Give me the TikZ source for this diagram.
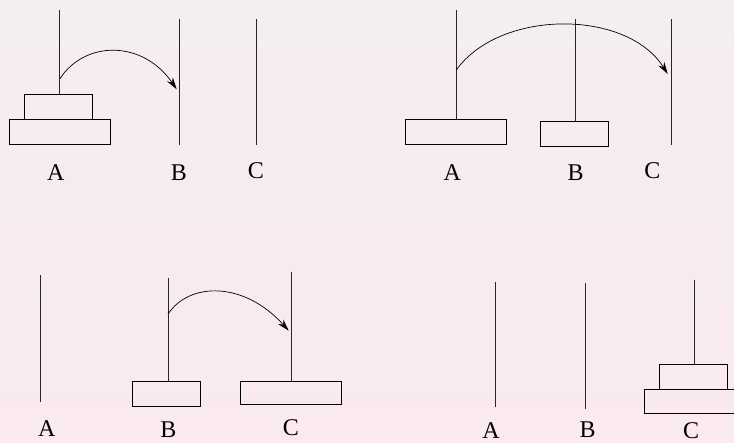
\documentclass[tikz,border=0pt]{standalone}
\usepackage{fontspec}
\setmainfont{Liberation Serif}
\usetikzlibrary{arrows.meta}
\definecolor{bgtop}{RGB}{244,238,242}
\definecolor{bgbot}{RGB}{250,233,238}
\tikzset{
  peg/.style={line width=0.8pt, black!85},
  disk/.style={draw, line width=0.8pt, inner sep=0pt, minimum height=24.5pt, anchor=north},
  bigdisk/.style={disk, minimum width=101pt},
  smalldisk/.style={disk, minimum width=68pt},
  lbl/.style={inner sep=0pt, font=\fontsize{24}{24}\selectfont},
  move/.style={line width=0.7pt, -{Stealth[length=12pt,width=7pt]}}
}
\begin{document}
\begin{tikzpicture}[x=1pt,y=-1pt]
\shade[top color=bgtop, bottom color=bgbot] (0,0) rectangle (734,443);
\useasboundingbox (0,0) rectangle (734,443);
% ---------- panel 1 ----------
\coordinate (p1At) at (59.7,10); \coordinate (p1Ab) at (59.7,94.3);
\coordinate (p1Bt) at (179.3,19); \coordinate (p1Bb) at (179.3,145);
\coordinate (p1Ct) at (256,19); \coordinate (p1Cb) at (256,145);
\draw[peg] (p1At) -- (p1Ab);
\draw[peg] (p1Bt) -- (p1Bb);
\draw[peg] (p1Ct) -- (p1Cb);
\node[smalldisk] (p1d1) at (58.3,94.3) {};
\node[bigdisk] (p1d2) at (59.8,119.3) {};
\coordinate (p1s) at (59.7,79); \coordinate (p1e) at (176.7,89.3);
\draw[move] (p1s) .. controls (85,40) and (143,40) .. (p1e);
\node[lbl] (p1lA) at (55.7,173) {A};
\node[lbl] (p1lB) at (179,173) {B};
\node[lbl] (p1lC) at (256,171) {C};
% ---------- panel 2 ----------
\coordinate (p2At) at (456.3,10); \coordinate (p2Ab) at (456.3,119.3);
\coordinate (p2Bt) at (575.7,19); \coordinate (p2Bb) at (575.7,120.7);
\coordinate (p2Ct) at (671,19); \coordinate (p2Cb) at (671,145);
\draw[peg] (p2At) -- (p2Ab);
\draw[peg] (p2Bt) -- (p2Bb);
\draw[peg] (p2Ct) -- (p2Cb);
\node[bigdisk] (p2d2) at (456.2,119.3) {};
\node[smalldisk, minimum height=25.6pt] (p2d1) at (574.3,120.7) {};
\coordinate (p2s) at (456.3,70); \coordinate (p2e) at (667.7,74);
\draw[move] (p2s) .. controls (500,9) and (627,9) .. (p2e);
\node[lbl] (p2lA) at (452.3,173) {A};
\node[lbl] (p2lB) at (575.7,173) {B};
\node[lbl] (p2lC) at (652.3,171) {C};
% ---------- panel 3 ----------
\coordinate (p3At) at (40.7,275); \coordinate (p3Ab) at (40.7,401.7);
\coordinate (p3Bt) at (168,278.3); \coordinate (p3Bb) at (168,380.7);
\coordinate (p3Ct) at (291.3,271.7); \coordinate (p3Cb) at (291.3,380.7);
\draw[peg] (p3At) -- (p3Ab);
\draw[peg] (p3Bt) -- (p3Bb);
\draw[peg] (p3Ct) -- (p3Cb);
\node[smalldisk, minimum height=25.3pt] (p3d1) at (166.5,380.7) {};
\node[bigdisk, minimum height=23.6pt] (p3d2) at (291.2,380.7) {};
\coordinate (p3s) at (168,314); \coordinate (p3e) at (288.7,330.7);
\draw[move] (p3s) .. controls (190,281.5) and (244.4,281.5) .. (p3e);
\node[lbl] (p3lA) at (46.7,428.5) {A};
\node[lbl] (p3lB) at (168.3,430) {B};
\node[lbl] (p3lC) at (291,427.5) {C};
% ---------- panel 4 ----------
\coordinate (p4At) at (495.3,281.7); \coordinate (p4Ab) at (495.3,407.3);
\coordinate (p4Bt) at (585.3,283.3); \coordinate (p4Bb) at (585.3,409.3);
\coordinate (p4Ct) at (694.7,280); \coordinate (p4Cb) at (694.7,364);
\draw[peg] (p4At) -- (p4Ab);
\draw[peg] (p4Bt) -- (p4Bb);
\draw[peg] (p4Ct) -- (p4Cb);
\node[smalldisk, minimum height=25pt] (p4d1) at (693.3,364) {};
\node[bigdisk] (p4d2) at (694.8,389) {};
\node[lbl] (p4lA) at (491,430.5) {A};
\node[lbl] (p4lB) at (587.7,429.5) {B};
\node[lbl] (p4lC) at (691,430.5) {C};
\end{tikzpicture}
\end{document}
